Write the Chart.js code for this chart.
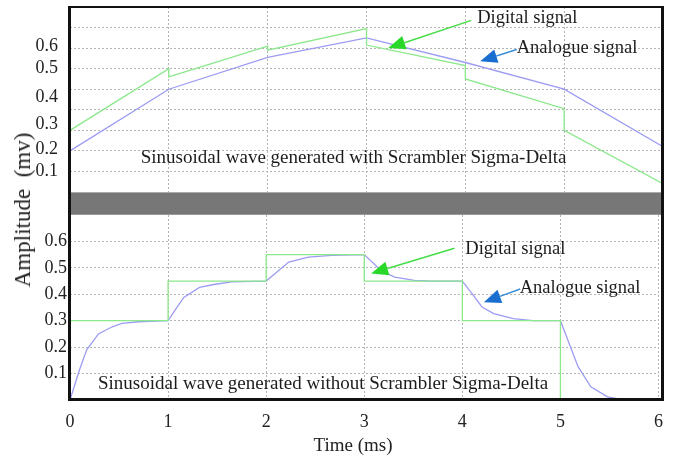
<!DOCTYPE html>
<html lang="en">
  <head>
    <meta charset="UTF-8" />
    <title>Sigma-Delta signals</title>
    <script src="https://cdn.jsdelivr.net/npm/chart.js@4.4.1/dist/chart.umd.min.js"></script>
    <style>
      body {
        margin: 0;
        background: #fff;
      }
      #wrap {
        position: relative;
        width: 674px;
        height: 461px;
        background: #fff;
        font-family: 'Liberation Serif', 'Times New Roman', serif;
      }
      .box {
        position: absolute;
        left: 0;
        width: 674px;
      }
      #band {
        position: absolute;
        left: 70px;
        top: 192px;
        width: 593px;
        height: 23px;
        box-sizing: border-box;
        background: #777;
        border-top: 1px solid #aaa;
        border-bottom: 1px solid #999;
      }
      #frame {
        position: absolute;
        left: 68px;
        top: 6px;
        width: 596px;
        height: 395px;
        box-sizing: border-box;
        border: 3px solid #111;
        border-top-width: 2px;
        pointer-events: none;
      }
      #ytitle {
        position: absolute;
        left: 23px;
        top: 210px;
        transform: translate(-50%, -50%) rotate(-90deg);
        white-space: pre;
        font-size: 23px;
        color: #222;
      }
      #xtitle {
        position: absolute;
        left: 353px;
        top: 445px;
        transform: translate(-50%, -50%);
        white-space: nowrap;
        font-size: 19px;
        color: #222;
      }
    </style>
  </head>
  <body>
    <div id="wrap">
      <div class="box" style="top: 0; height: 192px"><canvas id="top"></canvas></div>
      <div id="band"></div>
      <div class="box" style="top: 215px; height: 246px"><canvas id="bottom"></canvas></div>
      <div id="frame"></div>
      <div id="ytitle">Amplitude  (mv)</div>
      <div id="xtitle">Time (ms)</div>
    </div>
    <script>
      // top panel: with scrambler
      const topAnalogueTime = [0, 1, 2, 3, 4, 5, 6];
      const topAnalogue = [0.2, 0.5, 0.655, 0.75, 0.63, 0.5, 0.22];
      const topDigitalTime = [0, 1, 1, 2, 2, 3, 3, 4, 4, 5, 5, 6];
      const topDigital = [0.3, 0.6, 0.56, 0.71, 0.69, 0.795, 0.715, 0.615, 0.55, 0.405, 0.3, 0.04];
      // tick labels of the top panel sit where the original put them
      const topTickPos = [0.1, 0.21, 0.33, 0.46, 0.6, 0.71];
      const topTickText = ['0.1', '0.2', '0.3', '0.4', '0.5', '0.6'];

      // bottom panel: without scrambler
      const botAnalogueTime = [0, 0.09, 0.17, 0.29, 0.43, 0.53, 0.7, 1, 1.08, 1.16, 1.32, 1.48, 1.65, 2,
        2.23, 2.43, 2.67, 3, 3.17, 3.31, 3.51, 3.69, 4, 4.12, 4.2, 4.32, 4.52, 4.72, 5, 5.18, 5.31, 5.48, 5.65];
      const botAnalogue = [0, 0.107, 0.19, 0.25, 0.277, 0.29, 0.296, 0.3, 0.345, 0.388, 0.426, 0.438, 0.447, 0.45,
        0.522, 0.541, 0.547, 0.55, 0.49, 0.465, 0.453, 0.45, 0.45, 0.392, 0.352, 0.327, 0.308, 0.3, 0.3, 0.126, 0.05, 0.012, 0];
      const botDigitalTime = [0, 1, 1, 2, 2, 3, 3, 4, 4, 5, 5, 6];
      const botDigital = [0.3, 0.3, 0.45, 0.45, 0.55, 0.55, 0.45, 0.45, 0.3, 0.3, 0, 0];
      const botTicks = [0.1, 0.2, 0.3, 0.4, 0.5, 0.6];

      const xTicks = [0, 1, 2, 3, 4, 5, 6];

      // annotations, in data units (time ms, amplitude)
      const noteText = ['Digital signal', 'Analogue signal'];
      const topNoteAt = [[4.12, 0.845], [4.52, 0.7]];
      const topArrowFrom = [[4.06, 0.835], [4.52, 0.693]];
      const topArrowTo = [[3.22, 0.7], [4.15, 0.636]];
      const botNoteAt = [[4.03, 0.571], [4.585, 0.424]];
      const botArrowFrom = [[3.92, 0.574], [4.59, 0.42]];
      const botArrowTo = [[3.07, 0.479], [4.22, 0.37]];
      const topCaption = 'Sinusoidal wave generated with Scrambler Sigma-Delta';
      const botCaption = 'Sinusoidal wave generated without Scrambler Sigma-Delta';
      const topCaptionAt = [2.87, 0.165];
      const botCaptionAt = [2.58, 0.06];

      const GREEN = '#8be88b';
      const BLUE = '#9c9cf4';
      const arrowLine = ['#45dd45', '#3a8fd9'];
      const arrowHead = ['#2ad82a', '#1a6ecf'];
      const FONT = '"Liberation Serif", "Times New Roman", serif';

      Chart.defaults.font.family = FONT;
      Chart.defaults.color = '#222';

      const pts = (xs, ys) => xs.map((x, i) => ({ x: x, y: ys[i] }));

      function notesPlugin(noteAt, from, to, caption, captionAt) {
        return {
          id: 'notes',
          afterDatasetsDraw(chart) {
            const ctx = chart.ctx;
            const xs = chart.scales.x;
            const ys = chart.scales.y;
            const px = (p) => [xs.getPixelForValue(p[0]), ys.getPixelForValue(p[1])];
            ctx.save();
            ctx.fillStyle = '#1c1c1c';
            ctx.textBaseline = 'middle';
            ctx.font = '19px ' + FONT;
            ctx.textAlign = 'center';
            const c = px(captionAt);
            ctx.fillText(caption, c[0], c[1]);
            ctx.textAlign = 'left';
            ctx.font = '18.5px ' + FONT;
            for (let i = 0; i < noteText.length; i++) {
              const t = px(noteAt[i]);
              ctx.fillStyle = '#1c1c1c';
              ctx.fillText(noteText[i], t[0], t[1]);
              const a = px(from[i]);
              const b = px(to[i]);
              const ang = Math.atan2(b[1] - a[1], b[0] - a[0]);
              const len = 17;
              const hw = 7;
              const bx = b[0] - len * Math.cos(ang);
              const by = b[1] - len * Math.sin(ang);
              ctx.strokeStyle = arrowLine[i];
              ctx.lineWidth = 1.5;
              ctx.beginPath();
              ctx.moveTo(a[0], a[1]);
              ctx.lineTo(bx, by);
              ctx.stroke();
              ctx.fillStyle = arrowHead[i];
              ctx.beginPath();
              ctx.moveTo(b[0], b[1]);
              ctx.lineTo(bx + hw * Math.sin(ang), by - hw * Math.cos(ang));
              ctx.lineTo(bx - hw * Math.sin(ang), by + hw * Math.cos(ang));
              ctx.closePath();
              ctx.fill();
            }
            ctx.restore();
          },
        };
      }

      const gridStyle = { color: '#b4b4b4', lineWidth: 1, drawTicks: false };
      const dotted = { display: false, dash: [2, 2] };
      const noPad = (s) => { s.paddingTop = 0; s.paddingBottom = 0; };

      function lineSet(data, color) {
        return {
          data: data,
          borderColor: color,
          borderWidth: 1.3,
          pointRadius: 0,
          tension: 0,
          fill: false,
          yAxisID: 'y',
        };
      }

      new Chart(document.getElementById('top'), {
        type: 'line',
        data: {
          datasets: [
            lineSet(pts(topDigitalTime, topDigital), GREEN),
            lineSet(pts(topAnalogueTime, topAnalogue), BLUE),
          ],
        },
        options: {
          animation: false,
          responsive: true,
          maintainAspectRatio: false,
          devicePixelRatio: 1,
          layout: { padding: { top: 7, right: 11, bottom: 0, left: 0 } },
          plugins: { legend: { display: false }, tooltip: { enabled: false } },
          scales: {
            x: {
              type: 'linear',
              min: 0,
              max: 6,
              afterBuildTicks: (s) => { s.ticks = xTicks.map((v) => ({ value: v })); },
              ticks: { display: false },
              grid: gridStyle,
              border: dotted,
              afterFit: (s) => { s.height = 0; },
            },
            y: {
              min: 0,
              max: 0.9,
              ticks: { display: false, stepSize: 0.1 },
              grid: gridStyle,
              border: dotted,
              afterFit: (s) => { s.width = 0; noPad(s); },
            },
            yLab: {
              position: 'left',
              min: 0,
              max: 0.9,
              afterBuildTicks: (s) => { s.ticks = topTickPos.map((v) => ({ value: v })); },
              ticks: {
                padding: 4,
                font: { size: 18 },
                callback: (v, i) => topTickText[i],
              },
              grid: { display: false },
              border: { display: false },
              afterFit: (s) => { s.width = 70; noPad(s); },
            },
          },
        },
        plugins: [notesPlugin(topNoteAt, topArrowFrom, topArrowTo, topCaption, topCaptionAt)],
      });

      new Chart(document.getElementById('bottom'), {
        type: 'line',
        data: {
          datasets: [
            lineSet(pts(botDigitalTime, botDigital), GREEN),
            lineSet(pts(botAnalogueTime, botAnalogue), BLUE),
          ],
        },
        options: {
          animation: false,
          responsive: true,
          maintainAspectRatio: false,
          devicePixelRatio: 1,
          layout: { padding: { top: 0, right: 11, bottom: 0, left: 0 } },
          plugins: { legend: { display: false }, tooltip: { enabled: false } },
          scales: {
            x: {
              type: 'linear',
              min: 0,
              max: 6,
              afterBuildTicks: (s) => { s.ticks = xTicks.map((v) => ({ value: v })); },
              ticks: { padding: 11, font: { size: 18 }, maxRotation: 0 },
              grid: gridStyle,
              border: dotted,
              afterFit: (s) => { s.height = 61; },
            },
            y: {
              min: 0,
              max: 0.7,
              afterBuildTicks: (s) => { s.ticks = botTicks.map((v) => ({ value: v })); },
              ticks: { padding: 3, font: { size: 18 } },
              grid: gridStyle,
              border: dotted,
              afterFit: (s) => { s.width = 70; noPad(s); },
            },
          },
        },
        plugins: [notesPlugin(botNoteAt, botArrowFrom, botArrowTo, botCaption, botCaptionAt)],
      });
    </script>
  </body>
</html>
